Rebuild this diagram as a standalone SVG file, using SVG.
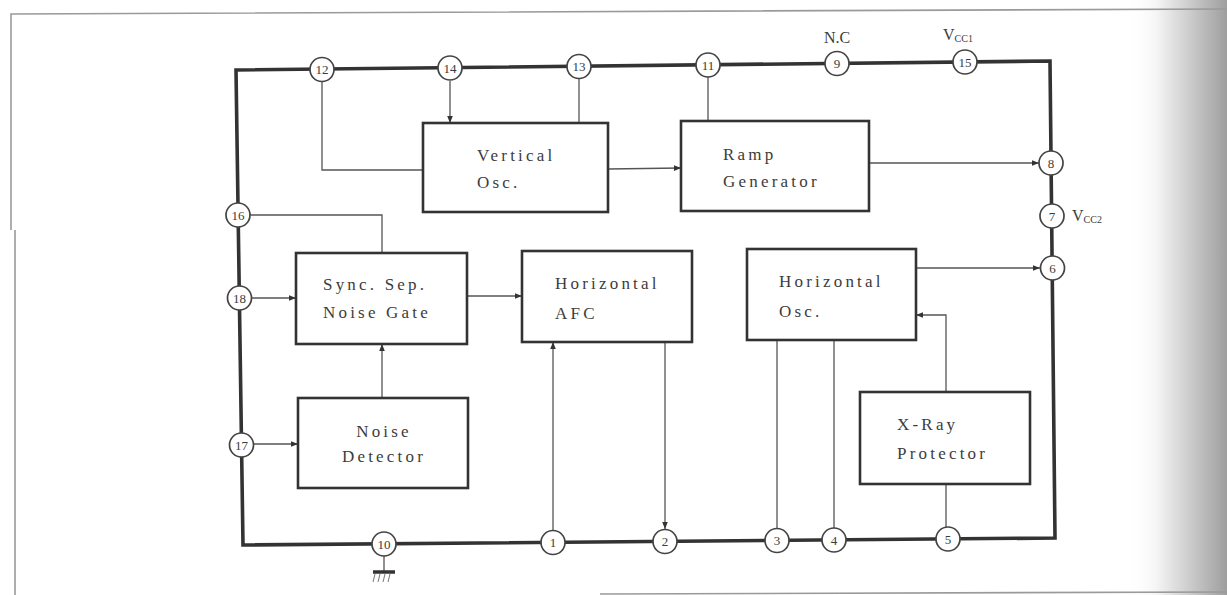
<svg xmlns="http://www.w3.org/2000/svg" width="1227" height="595" viewBox="0 0 1227 595">
<defs>
<linearGradient id="edge" x1="0" y1="0" x2="1" y2="0">
<stop offset="0" stop-color="#ffffff" stop-opacity="0"/>
<stop offset="0.3" stop-color="#f6f6f6"/>
<stop offset="1" stop-color="#9e9e9e"/>
</linearGradient>
<marker id="arr" viewBox="0 0 10 10" refX="10" refY="5" markerWidth="7" markerHeight="7" markerUnits="userSpaceOnUse" orient="auto">
<path d="M0,1 L10,5 L0,9 Z" fill="#333"/>
</marker>
</defs>
<style>
.box{fill:#fff;stroke:#333;stroke-width:2.6}
.ic{fill:none;stroke:#333;stroke-width:3.6;stroke-linejoin:miter}
.wire{fill:none;stroke:#555;stroke-width:1.3}
.pin circle{fill:#fff;stroke:#444;stroke-width:1.7}
.pin text{font-family:"Liberation Serif",serif;font-size:13px;fill:#3c3c3c;text-anchor:middle}
.lbl{font-family:"Liberation Serif",serif;font-size:17px;fill:#3c3c3c;letter-spacing:3.2px}
.note{font-family:"Liberation Serif",serif;font-size:16px;fill:#3c3c3c}
.sub{font-family:"Liberation Serif",serif;font-size:10px;fill:#3c3c3c}
.frame{fill:none;stroke:#9a9a9a;stroke-width:1.6}
</style>
<rect x="0" y="0" width="1227" height="595" fill="#fff"/>
<rect x="1125" y="0" width="102" height="595" fill="url(#edge)"/>
<g id="page-frame">
<path class="frame" d="M11,230 L11,14 L1227,9"/>
<path class="frame" d="M15,230 L15,595"/>
<path class="frame" d="M600,594 L1227,592"/>
</g>
<g id="ic-outline">
<path class="ic" d="M236,70 L1050,61 L1055,538 L243,545 Z"/>
</g>
<g id="connectors">
<path class="wire" d="M322,81 L322,170 L423,170"/>
<path class="wire" d="M450,81 L450,123" marker-end="url(#arr)"/>
<path class="wire" d="M579,78 L579,123"/>
<path class="wire" d="M708,77 L708,121"/>
<path class="wire" d="M608,169 L681,168" marker-end="url(#arr)"/>
<path class="wire" d="M869,163 L1039,163" marker-end="url(#arr)"/>
<path class="wire" d="M250,215 L382,215 L382,253"/>
<path class="wire" d="M251,298 L296,298" marker-end="url(#arr)"/>
<path class="wire" d="M467,296 L522,296" marker-end="url(#arr)"/>
<path class="wire" d="M382,398 L382,344" marker-end="url(#arr)"/>
<path class="wire" d="M253,444 L298,444" marker-end="url(#arr)"/>
<path class="wire" d="M553,530 L553,342" marker-end="url(#arr)"/>
<path class="wire" d="M665,342 L665,529" marker-end="url(#arr)"/>
<path class="wire" d="M777,340 L777,528"/>
<path class="wire" d="M834,340 L834,528"/>
<path class="wire" d="M916,268 L1040,268" marker-end="url(#arr)"/>
<path class="wire" d="M946,392 L946,315 L916,315" marker-end="url(#arr)"/>
<path class="wire" d="M946,527 L946,484"/>
</g>
<g id="ground">
<path class="wire" d="M384,556 L384,572"/>
<path d="M373,572 L395,572" stroke="#333" stroke-width="3.5"/>
<path d="M375,574 L373,582 M380,574 L378,582 M385,574 L383,582 M390,574 L388,582" stroke="#777" stroke-width="1"/>
</g>
<g id="vertical-osc">
<rect class="box" x="423" y="123" width="185" height="89"/>
<text class="lbl" x="477" y="161">Vertical</text>
<text class="lbl" x="477" y="188">Osc.</text>
</g>
<g id="ramp-generator">
<rect class="box" x="681" y="121" width="188" height="90"/>
<text class="lbl" x="723" y="160">Ramp</text>
<text class="lbl" x="723" y="187">Generator</text>
</g>
<g id="sync-sep">
<rect class="box" x="296" y="253" width="171" height="91"/>
<text class="lbl" x="323" y="290">Sync. Sep.</text>
<text class="lbl" x="323" y="318">Noise Gate</text>
</g>
<g id="horizontal-afc">
<rect class="box" x="522" y="251" width="170" height="91"/>
<text class="lbl" x="555" y="289">Horizontal</text>
<text class="lbl" x="555" y="319">AFC</text>
</g>
<g id="horizontal-osc">
<rect class="box" x="747" y="249" width="169" height="91"/>
<text class="lbl" x="779" y="287">Horizontal</text>
<text class="lbl" x="779" y="317">Osc.</text>
</g>
<g id="noise-detector">
<rect class="box" x="298" y="398" width="170" height="90"/>
<text class="lbl" x="384" y="437" text-anchor="middle">Noise</text>
<text class="lbl" x="384" y="462" text-anchor="middle">Detector</text>
</g>
<g id="xray-protector">
<rect class="box" x="860" y="392" width="170" height="92"/>
<text class="lbl" x="897" y="430">X-Ray</text>
<text class="lbl" x="897" y="459">Protector</text>
</g>
<g id="pins">
<g class="pin" id="pin12"><circle cx="322" cy="69.5" r="12"/><text x="322" y="74">12</text></g>
<g class="pin" id="pin14"><circle cx="450" cy="68" r="12"/><text x="450" y="72.5">14</text></g>
<g class="pin" id="pin13"><circle cx="579" cy="66.5" r="12"/><text x="579" y="71">13</text></g>
<g class="pin" id="pin11"><circle cx="708" cy="65" r="12"/><text x="708" y="69.5">11</text></g>
<g class="pin" id="pin9"><circle cx="837" cy="63.5" r="12"/><text x="837" y="68">9</text></g>
<g class="pin" id="pin15"><circle cx="965" cy="62" r="12"/><text x="965" y="66.5">15</text></g>
<g class="pin" id="pin8"><circle cx="1051" cy="163" r="12"/><text x="1051" y="167.5">8</text></g>
<g class="pin" id="pin7"><circle cx="1052" cy="216" r="12"/><text x="1052" y="220.5">7</text></g>
<g class="pin" id="pin6"><circle cx="1052.5" cy="268" r="12"/><text x="1052.5" y="272.5">6</text></g>
<g class="pin" id="pin16"><circle cx="238" cy="215" r="12"/><text x="238" y="219.5">16</text></g>
<g class="pin" id="pin18"><circle cx="239.5" cy="298" r="12"/><text x="239.5" y="302.5">18</text></g>
<g class="pin" id="pin17"><circle cx="241.5" cy="445" r="12"/><text x="241.5" y="449.5">17</text></g>
<g class="pin" id="pin10"><circle cx="384" cy="544" r="12"/><text x="384" y="548.5">10</text></g>
<g class="pin" id="pin1"><circle cx="553" cy="542.5" r="12"/><text x="553" y="547">1</text></g>
<g class="pin" id="pin2"><circle cx="665" cy="541.5" r="12"/><text x="665" y="546">2</text></g>
<g class="pin" id="pin3"><circle cx="777" cy="540.5" r="12"/><text x="777" y="545">3</text></g>
<g class="pin" id="pin4"><circle cx="834" cy="540" r="12"/><text x="834" y="544.5">4</text></g>
<g class="pin" id="pin5"><circle cx="948" cy="539" r="12"/><text x="948" y="543.5">5</text></g>
</g>
<g id="pin-labels">
<text class="note" x="837" y="43" text-anchor="middle">N.C</text>
<text class="note" x="943" y="40">V<tspan class="sub" dy="2">CC1</tspan></text>
<text class="note" x="1072" y="221">V<tspan class="sub" dy="2">CC2</tspan></text>
</g>
</svg>
